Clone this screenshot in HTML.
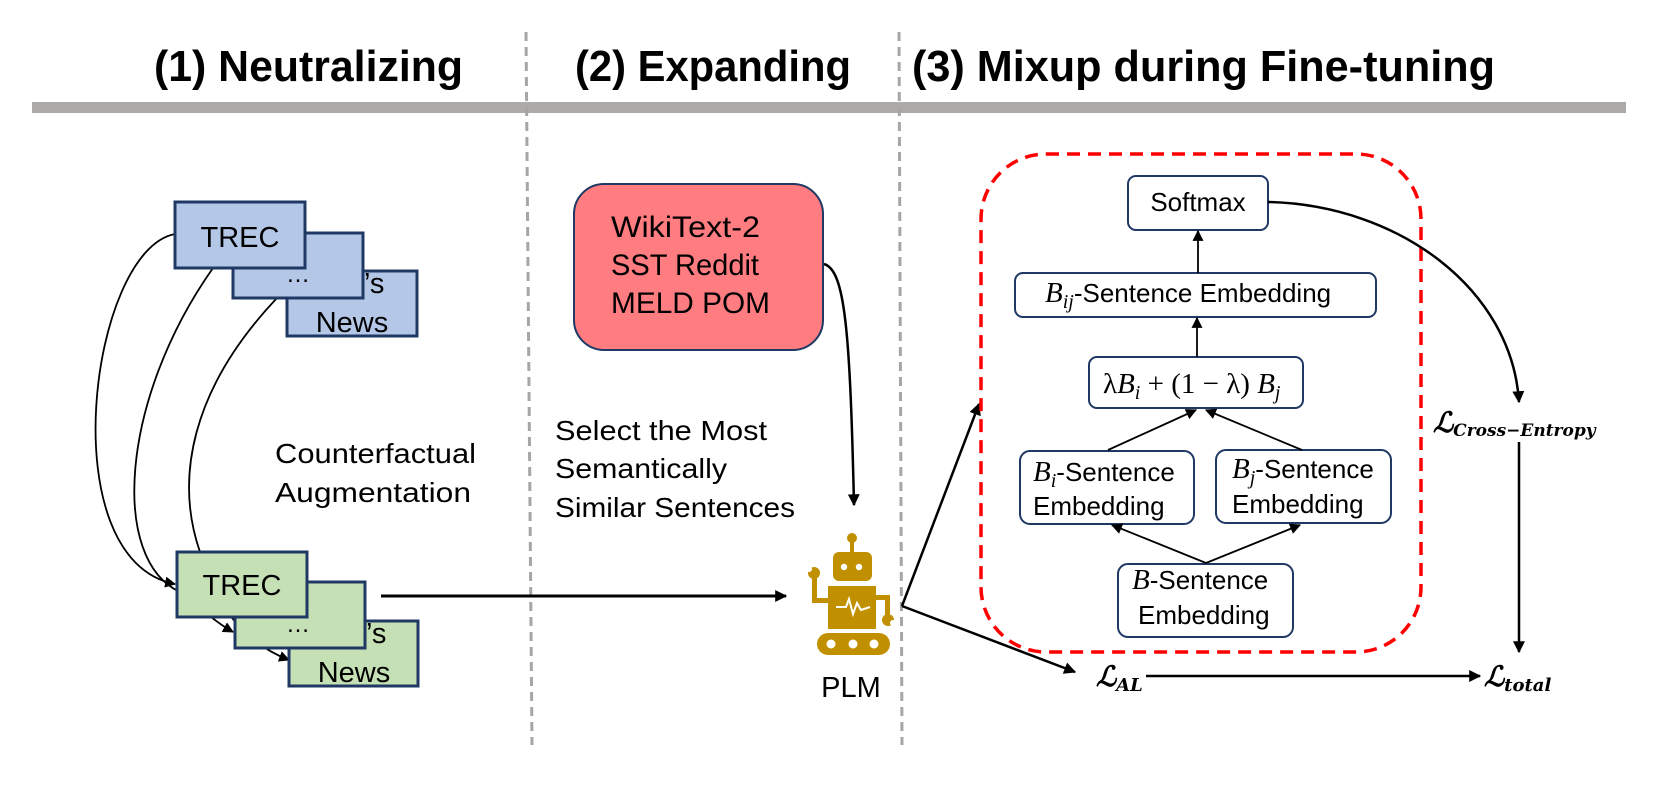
<!DOCTYPE html>
<html><head><meta charset="utf-8"><style>
html,body{margin:0;padding:0;background:#fff;}
svg{display:block;}
text{font-family:"Liberation Sans",sans-serif;fill:#000;}
.m{font-family:"Liberation Serif",serif;font-style:italic;}
.L{font-family:"DejaVu Serif","Liberation Serif",serif;font-weight:bold;font-style:italic;}
</style></head><body>
<svg width="1669" height="798" viewBox="0 0 1669 798" xmlns="http://www.w3.org/2000/svg">
<defs>
<marker id="a" viewBox="0 0 10 10" refX="9" refY="5" markerWidth="11" markerHeight="11" markerUnits="userSpaceOnUse" orient="auto"><path d="M0,0 L10,5 L0,10 z" fill="#000"/></marker>
<marker id="b" viewBox="0 0 10 10" refX="9" refY="5" markerWidth="12" markerHeight="12" markerUnits="userSpaceOnUse" orient="auto"><path d="M0,0 L10,5 L0,10 z" fill="#000"/></marker>
</defs>
<!-- titles -->
<text x="154" y="81" font-size="44" font-weight="bold" textLength="309" lengthAdjust="spacingAndGlyphs">(1) Neutralizing</text>
<text x="575" y="81" font-size="44" font-weight="bold" textLength="276" lengthAdjust="spacingAndGlyphs">(2) Expanding</text>
<text x="912" y="81" font-size="44" font-weight="bold" textLength="583" lengthAdjust="spacingAndGlyphs">(3) Mixup during Fine-tuning</text>
<rect x="32" y="102" width="1594" height="11" fill="#aeaaaa"/>
<line x1="526" y1="32" x2="532" y2="745" stroke="#a6a6a6" stroke-width="3" stroke-dasharray="9,6"/>
<line x1="899" y1="32" x2="902" y2="745" stroke="#a6a6a6" stroke-width="3" stroke-dasharray="9,6"/>

<!-- left curves -->
<g fill="none" stroke="#000" stroke-width="1.8">
<path d="M175,234 C90,250 50,560 175,584" marker-end="url(#a)"/>
<path d="M213,268 C120,400 110,560 180,592 C200,607 215,622 233,632" marker-end="url(#a)"/>
<path d="M277,298 C190,390 175,480 200,552 C215,610 250,645 289,660" marker-end="url(#a)"/>
</g>
<!-- blue boxes -->
<g stroke="#1f3864" stroke-width="3" fill="#b4c7e7">
<rect x="287" y="271" width="130" height="65"/>
<rect x="233" y="233" width="130" height="65"/>
<rect x="175" y="202" width="130" height="66"/>
</g>
<text x="240" y="247" font-size="29" text-anchor="middle">TREC</text>
<text x="298" y="282" font-size="24" text-anchor="middle">…</text>
<text x="364" y="293" font-size="29">’s</text>
<text x="352" y="332" font-size="29" text-anchor="middle">News</text>
<!-- green boxes -->
<g stroke="#1f3864" stroke-width="3" fill="#c5e0b4">
<rect x="289" y="621" width="129" height="65"/>
<rect x="235" y="582" width="130" height="66"/>
<rect x="177" y="552" width="130" height="65"/>
</g>
<text x="242" y="595" font-size="29" text-anchor="middle">TREC</text>
<text x="298" y="632" font-size="24" text-anchor="middle">…</text>
<text x="366" y="643" font-size="29">’s</text>
<text x="354" y="682" font-size="29" text-anchor="middle">News</text>

<text x="275" y="463" font-size="28" textLength="201" lengthAdjust="spacingAndGlyphs">Counterfactual</text>
<text x="275" y="502" font-size="28" textLength="196" lengthAdjust="spacingAndGlyphs">Augmentation</text>

<!-- red box -->
<rect x="574" y="184" width="249" height="166" rx="30" fill="#ff7c80" stroke="#1f3864" stroke-width="2"/>
<text x="611" y="237" font-size="30" textLength="149" lengthAdjust="spacingAndGlyphs">WikiText-2</text>
<text x="611" y="275" font-size="30" textLength="148" lengthAdjust="spacingAndGlyphs">SST Reddit</text>
<text x="611" y="313" font-size="30" textLength="159" lengthAdjust="spacingAndGlyphs">MELD POM</text>
<path d="M824,264 C845,270 850,330 854,505" fill="none" stroke="#000" stroke-width="2.5" marker-end="url(#b)"/>

<text x="555" y="440" font-size="28" textLength="212" lengthAdjust="spacingAndGlyphs">Select the Most</text>
<text x="555" y="478" font-size="28" textLength="172" lengthAdjust="spacingAndGlyphs">Semantically</text>
<text x="555" y="517" font-size="28" textLength="240" lengthAdjust="spacingAndGlyphs">Similar Sentences</text>

<!-- arrow green -> robot -->
<line x1="381" y1="596" x2="786" y2="596" stroke="#000" stroke-width="3" marker-end="url(#b)"/>

<!-- robot -->
<g fill="#c09000">
<circle cx="852" cy="538" r="5"/>
<rect x="850" y="538" width="4" height="16"/>
<rect x="833" y="552" width="39" height="29" rx="6"/>
<rect x="828" y="586" width="48" height="43"/>
<rect x="813" y="598" width="16" height="5"/>
<rect x="812" y="574" width="5" height="29"/>
<circle cx="814" cy="573" r="6"/>
<rect x="875" y="595" width="14" height="5"/>
<rect x="885" y="595" width="5" height="25"/>
<circle cx="888" cy="620" r="6"/>
<rect x="817" y="633" width="73" height="22" rx="11"/>
</g>
<g fill="#fff">
<circle cx="844" cy="567" r="3.2"/><circle cx="859" cy="567" r="3.2"/>
<circle cx="809" cy="569" r="3"/><circle cx="893" cy="623" r="3"/>
<circle cx="831" cy="644" r="4.5"/><circle cx="853" cy="644" r="4.5"/><circle cx="874" cy="644" r="4.5"/>
</g>
<polyline points="836,607 846,607 849,599 853,614 857,603 861,610 870,607" fill="none" stroke="#fff" stroke-width="2"/>
<text x="851" y="697" font-size="29" text-anchor="middle">PLM</text>

<!-- robot arrows -->
<line x1="902" y1="606" x2="979" y2="404" stroke="#000" stroke-width="2.5" marker-end="url(#b)"/>
<line x1="902" y1="606" x2="1075" y2="672" stroke="#000" stroke-width="2.5" marker-end="url(#b)"/>

<!-- red dashed box -->
<rect x="981" y="154" width="440" height="498" rx="65" fill="none" stroke="#ff0000" stroke-width="3.5" stroke-dasharray="13,8"/>

<!-- inner boxes -->
<g fill="#fff" stroke="#1f3864" stroke-width="2">
<rect x="1128" y="176" width="140" height="54" rx="8"/>
<rect x="1015" y="273" width="361" height="44" rx="8"/>
<rect x="1089" y="357" width="214" height="51" rx="8"/>
<rect x="1020" y="451" width="174" height="73" rx="10"/>
<rect x="1216" y="450" width="175" height="73" rx="10"/>
<rect x="1118" y="564" width="175" height="73" rx="10"/>
</g>
<g stroke="#000" stroke-width="1.8" fill="none">
<line x1="1198" y1="273" x2="1198" y2="231" marker-end="url(#a)"/>
<line x1="1197" y1="357" x2="1197" y2="318" marker-end="url(#a)"/>
<line x1="1108" y1="450" x2="1196" y2="410" marker-end="url(#a)"/>
<line x1="1302" y1="450" x2="1206" y2="410" marker-end="url(#a)"/>
<line x1="1206" y1="563" x2="1112" y2="525" marker-end="url(#a)"/>
<line x1="1206" y1="563" x2="1300" y2="525" marker-end="url(#a)"/>
</g>
<text x="1198" y="211" font-size="26" text-anchor="middle">Softmax</text>
<text x="1045" y="302" font-size="26"><tspan class="m" font-size="29">B</tspan><tspan class="m" font-size="20" dy="6">ij</tspan><tspan dy="-6">-Sentence Embedding</tspan></text>
<text x="1103" y="393" font-size="29" class="m" style="font-style:normal">λ<tspan class="m">B</tspan><tspan class="m" font-size="20" dy="6">i</tspan><tspan dy="-6"> + (1 − λ) </tspan><tspan class="m">B</tspan><tspan class="m" font-size="20" dy="6">j</tspan></text>
<text x="1033" y="481" font-size="26"><tspan class="m" font-size="29">B</tspan><tspan class="m" font-size="20" dy="6">i</tspan><tspan dy="-6">-Sentence</tspan></text>
<text x="1033" y="515" font-size="26">Embedding</text>
<text x="1232" y="478" font-size="26"><tspan class="m" font-size="29">B</tspan><tspan class="m" font-size="20" dy="6">j</tspan><tspan dy="-6">-Sentence</tspan></text>
<text x="1232" y="513" font-size="26">Embedding</text>
<text x="1132" y="589" font-size="26"><tspan class="m" font-size="29">B</tspan>-Sentence</text>
<text x="1138" y="624" font-size="26">Embedding</text>

<!-- losses -->
<path d="M1268,202 C1400,205 1512,290 1519,402" fill="none" stroke="#000" stroke-width="2.5" marker-end="url(#b)"/>
<text x="1433" y="432" class="L" font-size="28">ℒ<tspan font-size="17" dy="4">Cross−Entropy</tspan></text>
<line x1="1519" y1="442" x2="1519" y2="652" stroke="#000" stroke-width="2.5" marker-end="url(#b)"/>
<text x="1096" y="686" class="L" font-size="28">ℒ<tspan font-size="18" dy="5">AL</tspan></text>
<line x1="1146" y1="676" x2="1480" y2="676" stroke="#000" stroke-width="2.5" marker-end="url(#b)"/>
<text x="1484" y="686" class="L" font-size="28">ℒ<tspan font-size="18" dy="5">total</tspan></text>
</svg>
</body></html>
